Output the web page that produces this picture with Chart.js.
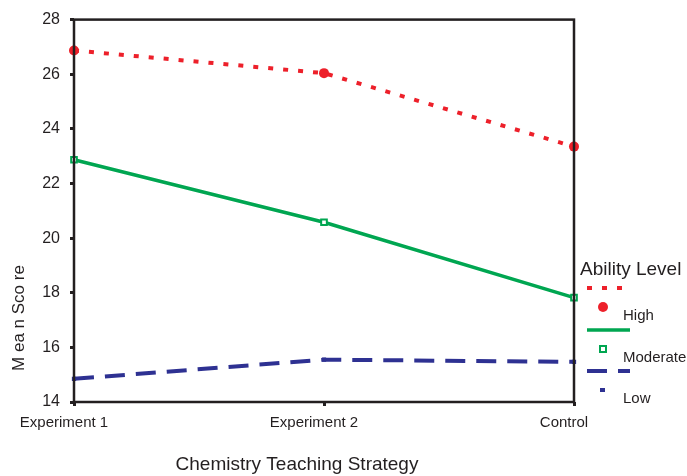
<!DOCTYPE html>
<html>
<head>
<meta charset="utf-8">
<script src="https://cdn.jsdelivr.net/npm/chart.js@4/dist/chart.umd.min.js"></script>
<style>
  html, body { margin: 0; padding: 0; background: #fff; }
  #wrap { width: 687px; height: 476px; }
</style>
</head>
<body>
<div id="wrap"><canvas id="meansChart"></canvas></div>
<script>
var strategies = ['Experiment 1', 'Experiment 2', 'Control'];
var highScores = [26.87, 26.04, 23.35];
var moderateScores = [22.87, 20.58, 17.82];
var lowScores = [14.85, 15.55, 15.47];
var yTicks = [14, 16, 18, 20, 22, 24, 26, 28];

var RED = 'rgb(237, 32, 42)';
var GREEN = 'rgb(0, 166, 81)';
var NAVY = 'rgb(46, 49, 146)';
var FONT = 'Liberation Sans, Arial, sans-serif';

// frame, titles and the legend on the right
var extras = {
    id: 'extras',
    afterDraw: function (chart) {
        var ctx = chart.ctx;
        var a = chart.chartArea;
        ctx.save();
        ctx.strokeStyle = '#231f20';
        ctx.lineWidth = 2.5;
        ctx.strokeRect(a.left, a.top, a.right - a.left, a.bottom - a.top);

        ctx.fillStyle = '#231f20';
        ctx.font = '19px ' + FONT;
        ctx.textAlign = 'center';
        ctx.textBaseline = 'middle';
        ctx.fillText('Chemistry Teaching Strategy', 297, 465);

        ctx.save();
        ctx.translate(19, 318);
        ctx.rotate(-Math.PI / 2);
        ctx.font = '17px ' + FONT;
        ctx.fillText('M ea n Sco re', 0, 0);
        ctx.restore();

        ctx.textAlign = 'left';
        ctx.font = '19px ' + FONT;
        ctx.fillText('Ability Level', 580, 270);

        var ds = chart.data.datasets;
        var rows = [288, 330, 371];
        ctx.font = '15px ' + FONT;
        for (var i = 0; i < ds.length; i++) {
            var y = rows[i];
            ctx.save();
            ctx.strokeStyle = ds[i].borderColor;
            ctx.lineWidth = ds[i].borderWidth;
            ctx.setLineDash(ds[i].borderDash || []);
            ctx.beginPath();
            ctx.moveTo(587, y);
            ctx.lineTo(630, y);
            ctx.stroke();
            ctx.restore();
            var my = y + 19;
            if (i === 0) {
                ctx.fillStyle = RED;
                ctx.beginPath();
                ctx.arc(603, my, 5, 0, Math.PI * 2);
                ctx.fill();
            } else if (i === 1) {
                ctx.strokeStyle = GREEN;
                ctx.lineWidth = 2;
                ctx.strokeRect(600, my - 3, 6, 6);
            } else {
                ctx.fillStyle = NAVY;
                ctx.fillRect(600, my - 2, 5, 4);
            }
            ctx.fillStyle = '#231f20';
            ctx.fillText(ds[i].label, 623, y + 28);
        }
        ctx.restore();
    }
};

new Chart(document.getElementById('meansChart'), {
    type: 'line',
    data: {
        labels: strategies,
        datasets: [{
            label: 'High',
            data: highScores,
            borderColor: RED,
            backgroundColor: RED,
            borderWidth: 4,
            borderDash: [5, 10],
            pointStyle: 'circle',
            pointRadius: 5,
            pointBorderWidth: 0
        }, {
            label: 'Moderate',
            data: moderateScores,
            borderColor: GREEN,
            backgroundColor: '#fff',
            borderWidth: 3.5,
            pointStyle: 'rect',
            pointRadius: 4,
            pointBorderWidth: 2
        }, {
            label: 'Low',
            data: lowScores,
            borderColor: NAVY,
            backgroundColor: NAVY,
            borderWidth: 4,
            borderDash: [20, 11],
            pointStyle: 'rect',
            pointRadius: 3,
            pointBorderWidth: 0
        }]
    },
    options: {
        responsive: true,
        maintainAspectRatio: false,
        animation: false,
        tension: 0,
        layout: { padding: { top: 17, right: 113, bottom: 0, left: 0 } },
        plugins: {
            legend: { display: false },
            tooltip: { enabled: false }
        },
        scales: {
            x: {
                offset: false,
                afterFit: function (s) { s.height = 74; },
                grid: {
                    drawOnChartArea: false,
                    drawTicks: true,
                    tickLength: 4,
                    tickWidth: 3,
                    tickColor: '#231f20'
                },
                border: { display: false },
                ticks: {
                    color: '#231f20',
                    font: { family: FONT, size: 15 },
                    labelOffset: -10,
                    padding: 8,
                    maxRotation: 0,
                    autoSkip: false
                }
            },
            y: {
                min: 14,
                max: 28,
                afterFit: function (s) { s.width = 74; },
                afterBuildTicks: function (s) {
                    s.ticks = yTicks.map(function (v) { return { value: v }; });
                },
                grid: {
                    drawOnChartArea: false,
                    drawTicks: true,
                    tickLength: 4,
                    tickWidth: 3,
                    tickColor: '#231f20'
                },
                border: { display: false },
                ticks: {
                    color: '#231f20',
                    font: { family: FONT, size: 16 },
                    padding: 10
                }
            }
        }
    },
    plugins: [extras]
});
</script>
</body>
</html>
